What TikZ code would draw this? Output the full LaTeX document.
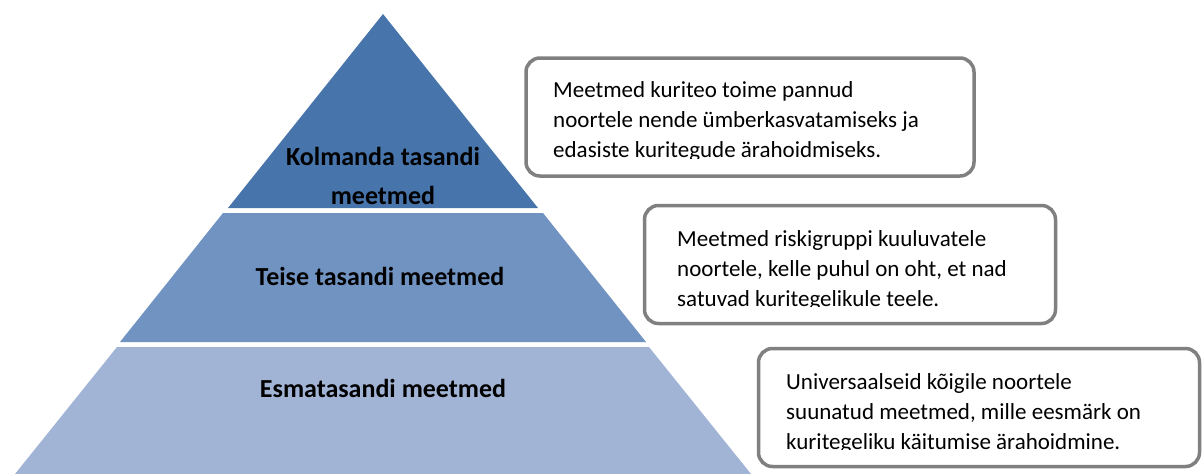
\documentclass[tikz,border=0pt]{standalone}
\usepackage{fontspec}
\setmainfont{Carlito}
\begin{document}
\begin{tikzpicture}[x=1pt,y=-1pt,
  lvllabel/.style={font=\fontsize{26}{39}\selectfont\bfseries, align=center, inner sep=0pt, text=black},
  infobox/.style={draw=black!50, line width=3.5pt, rounded corners=14pt, fill=white, inner sep=0pt},
  infotext/.style={font=\fontsize{23}{30}\selectfont, align=left, inner sep=0pt, anchor=west, text=black}]
\definecolor{lvlA}{RGB}{71,116,170}
\definecolor{lvlB}{RGB}{113,147,194}
\definecolor{lvlC}{RGB}{162,180,214}
\useasboundingbox (0,0) rectangle (1203,474);
% pyramid levels
\fill[lvlA] (383,14) -- (538,208) -- (228,208) -- cycle;
\fill[lvlB] (223,213) -- (543,213) -- (646,342) -- (120,342) -- cycle;
\fill[lvlC] (117,347) -- (649,347) -- (751,474) -- (15,474) -- cycle;
% labels
\node[lvllabel] (l3) at (383,176) {Kolmanda tasandi\\meetmed};
\node[lvllabel] (l2) at (380,276) {Teise tasandi meetmed};
\node[lvllabel] (l1) at (383,388) {Esmatasandi meetmed};
% boxes
\node[infobox, minimum width=448pt, minimum height=118pt] (b3) at (750,117) {};
\begin{scope}
\clip (520,50) rectangle (980,158);
\node[infotext] (t3) at (553,121.5) {Meetmed kuriteo toime pannud\\noortele nende ümberkasvatamiseks ja\\edasiste kuritegude ärahoidmiseks.};
\end{scope}
\node[infobox, minimum width=411pt, minimum height=118pt] (b2) at (850,264.5) {};
\begin{scope}
\clip (640,200) rectangle (1060,306.5);
\node[infotext] (t2) at (677,270) {Meetmed riskigruppi kuuluvatele\\noortele, kelle puhul on oht, et nad\\satuvad kuritegelikule teele.};
\end{scope}
\node[infobox, minimum width=441pt, minimum height=118pt] (b1) at (979,407.5) {};
\begin{scope}
\clip (755,345) rectangle (1203,449.5);
\node[infotext] (t1) at (786,413) {Universaalseid kõigile noortele\\suunatud meetmed, mille eesmärk on\\kuritegeliku käitumise ärahoidmine.};
\end{scope}
\end{tikzpicture}
\end{document}
